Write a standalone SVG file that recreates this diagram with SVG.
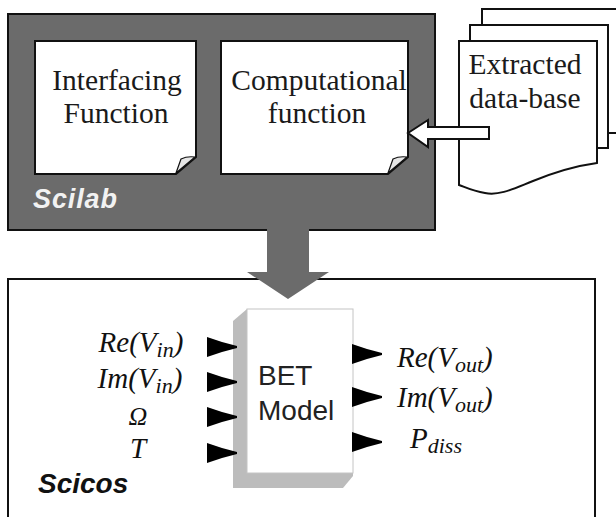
<svg xmlns="http://www.w3.org/2000/svg" width="616" height="517" viewBox="0 0 616 517">
<defs>
<style>
.serif{font-family:"Liberation Serif","Times New Roman",serif;fill:#1a1a1a}
.it{font-family:"Liberation Serif","Times New Roman",serif;font-style:italic;fill:#111}
.page{fill:#fff;stroke:#111;stroke-width:2}
.port{fill:#000}
.curl{fill:#e6e6e6;stroke:#111;stroke-width:1.2}
</style>
</defs>
<rect width="616" height="517" fill="#fff"/>

<g id="scicos">
<rect x="8" y="279" width="587" height="260" fill="#fff" stroke="#111" stroke-width="2"/>
<text x="38" y="493" font-family="'Liberation Sans',Arial,sans-serif" font-weight="bold" font-style="italic" font-size="28" fill="#111">Scicos</text>
</g>

<g id="scilab">
<rect x="8" y="14" width="427" height="216" fill="#6b6b6b" stroke="#111" stroke-width="2"/>
<text x="33" y="208" font-family="'Liberation Sans',Arial,sans-serif" font-weight="bold" font-style="italic" font-size="27" fill="#f2f2f2" textLength="84">Scilab</text>
</g>

<g id="interfacing">
<path class="page" d="M35,41 H196 V157 L176,174 H35 Z"/>
<path class="curl" d="M176,173 L181,159 Q187,156 195,157 Z"/>
<text class="serif" font-size="29.5" text-anchor="middle"><tspan x="117" y="90">Interfacing</tspan><tspan x="116" y="123">Function</tspan></text>
</g>

<g id="computational">
<path class="page" d="M221,41 H408 V157 L388,174 H221 Z"/>
<path class="curl" d="M388,173 L393,159 Q399,156 407,157 Z"/>
<text class="serif" font-size="29.5" text-anchor="middle"><tspan x="319" y="90">Computational</tspan><tspan x="317" y="123">function</tspan></text>
</g>

<g id="database">
<rect class="page" x="482" y="9" width="150" height="124"/>
<rect class="page" x="470" y="25" width="138" height="123"/>
<path class="page" d="M459,41 H597 V163 C575,166 555,172 533,181 C515,188 500,196 485,193 C472,191 465,187 459,185 Z"/>
<text class="serif" font-size="29.5" text-anchor="middle"><tspan x="525" y="74">Extracted</tspan><tspan x="525" y="108">data-base</tspan></text>
</g>

<g id="connectors">
<path d="M408,133 L428,120 V127 H489 V139 H428 V147 Z" fill="#fff" stroke="#111" stroke-width="2" stroke-linejoin="miter"/>
<path d="M267,229 H309 V272 H329 L288,299 L247,272 H267 Z" fill="#6b6b6b"/>
</g>

<g id="bet">
<path d="M247,309 L233,321 V488 H343 L353,476 V309 Z" fill="#bcbcbc"/>
<rect x="247" y="309" width="106" height="164" fill="#fff" stroke="#c4c4c4" stroke-width="1"/>
<text font-family="'Liberation Sans',Arial,sans-serif" font-size="28" fill="#222"><tspan x="258" y="385">BET</tspan><tspan x="258" y="420">Model</tspan></text>
<g class="port">
<path d="M207,337 L222,342 L237,346 V348 L222,352 L207,357 Z"/>
<path d="M207,372 L222,377 L237,381 V383 L222,387 L207,392 Z"/>
<path d="M207,407 L222,412 L237,416 V418 L222,422 L207,427 Z"/>
<path d="M207,443 L222,448 L237,452 V454 L222,458 L207,463 Z"/>
<path d="M352,344 L367,349 L382,353 V355 L367,359 L352,364 Z"/>
<path d="M352,387 L367,392 L382,396 V398 L367,402 L352,407 Z"/>
<path d="M352,432 L367,437 L382,441 V443 L367,447 L352,452 Z"/>
</g>
</g>

<g id="labels">
<text class="it" font-size="29" text-anchor="middle" x="141" y="352">Re(V<tspan font-size="22" dy="5">in</tspan><tspan dy="-5">)</tspan></text>
<text class="it" font-size="29" text-anchor="middle" x="140" y="388">Im(V<tspan font-size="22" dy="5">in</tspan><tspan dy="-5">)</tspan></text>
<text class="it" font-size="26" text-anchor="middle" x="138" y="425">Ω</text>
<text class="it" font-size="29" text-anchor="middle" x="138" y="458">T</text>
<text class="it" font-size="29" x="397" y="367">Re(V<tspan font-size="22" dy="5">out</tspan><tspan dy="-5">)</tspan></text>
<text class="it" font-size="29" x="397" y="407">Im(V<tspan font-size="22" dy="5">out</tspan><tspan dy="-5">)</tspan></text>
<text class="it" font-size="29" x="410" y="448">P<tspan font-size="22" dy="5">diss</tspan></text>
</g>
</svg>
